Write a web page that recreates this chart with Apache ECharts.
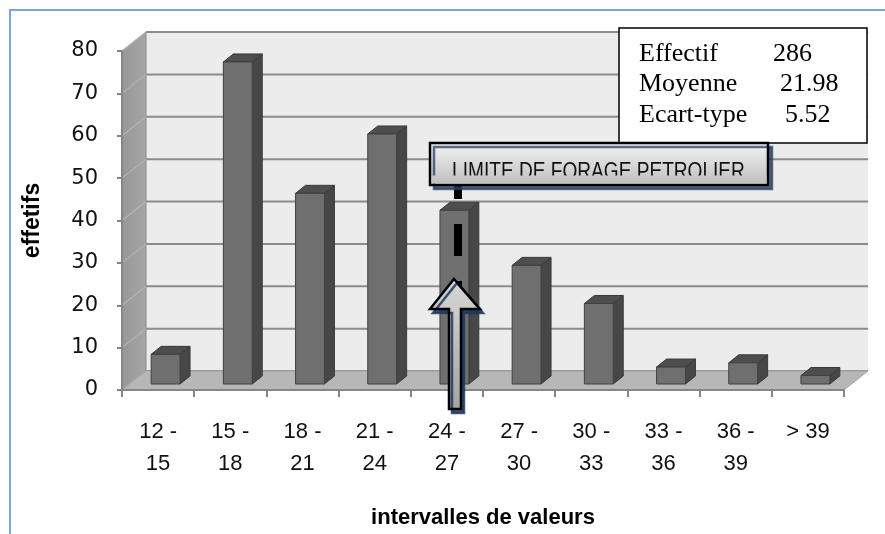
<!DOCTYPE html>
<html><head><meta charset="utf-8">
<script src="https://cdn.jsdelivr.net/npm/echarts@6/dist/echarts.min.js"></script>
<style>html,body{margin:0;padding:0;background:#fff}#c{width:885px;height:534px}</style>
</head><body><div id="c"></div>
<script>
// ---- data ----
const categories = ['12 -\n15', '15 -\n18', '18 -\n21', '21 -\n24', '24 -\n27', '27 -\n30', '30 -\n33', '33 -\n36', '36 -\n39', '> 39'];
const counts = [7, 76, 45, 59, 41, 28, 19, 4, 5, 2];
const yMin = 0, yMax = 80, yStep = 10;
const statLabels = ['Effectif', 'Moyenne', 'Ecart-type'];
const statValues = ['286', '21.98', '5.52'];
const annotationText = 'LIMITE DE FORAGE PETROLIER';
const xTitle = 'intervalles de valeurs';
const yTitle = 'effetifs';

// ---- 3D look ----
const DX = 24, DY = -19;
const BAR_OX = 7.5, BAR_OY = -6, BAR_DX = 10, BAR_DY = -8;

function wallsRender(params, api) {
  const cs = params.coordSys;
  const x0 = cs.x, x1 = cs.x + cs.width, yb = cs.y + cs.height, yt = cs.y;
  const ch = [];
  ch.push({type: 'polygon', shape: {points: [[x0 + DX, yt + DY], [x1 + DX, yt + DY], [x1 + DX, yb + DY], [x0 + DX, yb + DY]]},
    style: {fill: '#ececec'}});
  for (let v = yMin; v <= yMax; v += yStep) {
    const y = api.coord([0, v])[1];
    ch.push({type: 'line', shape: {x1: x0 + DX, y1: y + DY, x2: x1 + DX, y2: y + DY}, style: {stroke: '#8c8c8c', lineWidth: 2}});
  }
  ch.push({type: 'polygon', shape: {points: [[x0, yb], [x0, yt], [x0 + DX, yt + DY], [x0 + DX, yb + DY]]},
    style: {fill: new echarts.graphic.LinearGradient(0, 0, 1, 0, [{offset: 0, color: '#979797'}, {offset: 1, color: '#a6a6a6'}]), stroke: '#8a8a8a', lineWidth: 1}});
  for (let v = yMin; v <= yMax; v += yStep) {
    const y = api.coord([0, v])[1];
    ch.push({type: 'line', shape: {x1: x0, y1: y, x2: x0 + DX, y2: y + DY}, style: {stroke: '#b4b4b4', lineWidth: 1.2}});
  }
  ch.push({type: 'polygon', shape: {points: [[x0, yb], [x1, yb], [x1 + DX, yb + DY], [x0 + DX, yb + DY]]},
    style: {fill: '#b7b7b7', stroke: '#a5a5a5', lineWidth: 1}});
  return {type: 'group', children: ch};
}

function barRender(params, api) {
  const idx = api.value(0), v = api.value(1);
  const b = api.coord([idx, 0]), t = api.coord([idx, v]);
  const w = api.size([1, 0])[0] * 0.4;
  const xl = b[0] - w / 2 + BAR_OX, xr = xl + w;
  const yb = b[1] + BAR_OY, yt = t[1] + BAR_OY;
  return {type: 'group', children: [
    {type: 'polygon', shape: {points: [[xr, yt], [xr + BAR_DX, yt + BAR_DY], [xr + BAR_DX, yb + BAR_DY], [xr, yb]]},
      style: {fill: '#474747', stroke: '#3a3a3a', lineWidth: 1}},
    {type: 'polygon', shape: {points: [[xl, yt], [xl + BAR_DX, yt + BAR_DY], [xr + BAR_DX, yt + BAR_DY], [xr, yt]]},
      style: {fill: '#4e4e4e', stroke: '#3a3a3a', lineWidth: 1}},
    {type: 'rect', shape: {x: xl, y: yt, width: w, height: yb - yt},
      style: {fill: '#6f6f6f', stroke: '#404040', lineWidth: 1}}
  ]};
}

const boxGrad = {type: 'linear', x: 0, y: 143, x2: 0, y2: 185, global: true,
  colorStops: [{offset: 0, color: '#f3f3f3'}, {offset: 1, color: '#bebebe'}]};
const arrowGrad = {type: 'linear', x: 0, y: 279, x2: 0, y2: 409, global: true,
  colorStops: [{offset: 0, color: '#d6d6d6'}, {offset: 1, color: '#a4a4a4'}]};

const graphics = [
  {type: 'rect', z: 0, shape: {x: 10, y: 10, width: 1000, height: 1000}, style: {fill: 'none', stroke: '#7aa5de', lineWidth: 2}},
  // stats box
  {type: 'rect', z: 100, shape: {x: 619, y: 28, width: 248, height: 115}, style: {fill: '#fff', stroke: '#000', lineWidth: 1.5}},
  // dashed limit line
  {type: 'line', z: 100, shape: {x1: 458, y1: 167, x2: 458, y2: 300}, style: {stroke: '#000', lineWidth: 8, lineDash: [32, 25]}},
  // label box
  {type: 'rect', z: 101, shape: {x: 430, y: 143, width: 338, height: 42},
    style: {fill: boxGrad, stroke: '#000', lineWidth: 2.5, shadowColor: 'rgba(40,60,100,0.75)', shadowOffsetX: 4, shadowOffsetY: 4, shadowBlur: 0}},
  {type: 'text', z: 102, x: 598.5, y: 172.5, scaleX: 0.83,
    style: {text: annotationText, fontFamily: 'Liberation Sans', fontSize: 23, fill: '#111', align: 'center', verticalAlign: 'middle'}},
  {type: 'rect', z: 103, shape: {x: 431.5, y: 175.5, width: 335, height: 8}, style: {fill: boxGrad}},
  // arrow
  {type: 'polygon', z: 101, shape: {points: [[454, 279], [480, 309], [461, 309], [461, 409], [449, 409], [449, 309], [430, 309]]},
    style: {fill: arrowGrad, stroke: '#000', lineWidth: 2.5, shadowColor: 'rgba(30,55,95,0.85)', shadowOffsetX: 3, shadowOffsetY: 4, shadowBlur: 0}}
];
const statLeft = [773, 780, 785];
statLabels.forEach((s, i) => {
  graphics.push({type: 'text', z: 102, x: 639, y: 54 + i * 30.6,
    style: {text: s, fontFamily: 'Liberation Serif', fontSize: 26, fill: '#000', align: 'left', verticalAlign: 'middle'}});
  graphics.push({type: 'text', z: 102, x: statLeft[i], y: 54 + i * 30.6,
    style: {text: statValues[i], fontFamily: 'Liberation Serif', fontSize: 26, fill: '#000', align: 'left', verticalAlign: 'middle'}});
});

const chart = echarts.init(document.getElementById('c'), null, {renderer: 'canvas'});
chart.setOption({
  animation: false,
  backgroundColor: '#fff',
  grid: {left: 122, right: 41, top: 51, bottom: 144, containLabel: false},
  xAxis: {
    type: 'category', data: categories, boundaryGap: true, z: 5,
    axisLine: {show: true, lineStyle: {color: '#868686', width: 2}},
    axisTick: {show: true, length: 7, lineStyle: {color: '#868686', width: 2}},
    axisLabel: {interval: 0, fontFamily: 'Liberation Sans', fontSize: 22, lineHeight: 32, color: '#111', margin: 26},
    splitLine: {show: false},
    name: xTitle, nameLocation: 'middle', nameGap: 117,
    nameTextStyle: {fontFamily: 'Liberation Sans', fontWeight: 'bold', fontSize: 22, color: '#000'}
  },
  yAxis: {
    type: 'value', min: yMin, max: yMax, interval: yStep, z: 5,
    axisLine: {show: true, lineStyle: {color: '#868686', width: 2}},
    axisTick: {show: true, length: 5, lineStyle: {color: '#868686', width: 2}},
    axisLabel: {fontFamily: 'DejaVu Sans', fontSize: 21, color: '#111', margin: 24},
    splitLine: {show: false},
    name: yTitle, nameLocation: 'middle', nameGap: 78, nameRotate: 90,
    nameTextStyle: {fontFamily: 'Liberation Sans', fontWeight: 'bold', fontSize: 23, color: '#000'}
  },
  series: [
    {type: 'custom', name: 'walls', z: 1, clip: false, silent: true, renderItem: wallsRender, data: [[0, 0]]},
    {type: 'custom', name: 'effectifs', z: 3, clip: false, renderItem: barRender,
      encode: {x: 0, y: 1}, data: counts.map((v, i) => [i, v])}
  ],
  graphic: graphics
});
</script></body></html>
